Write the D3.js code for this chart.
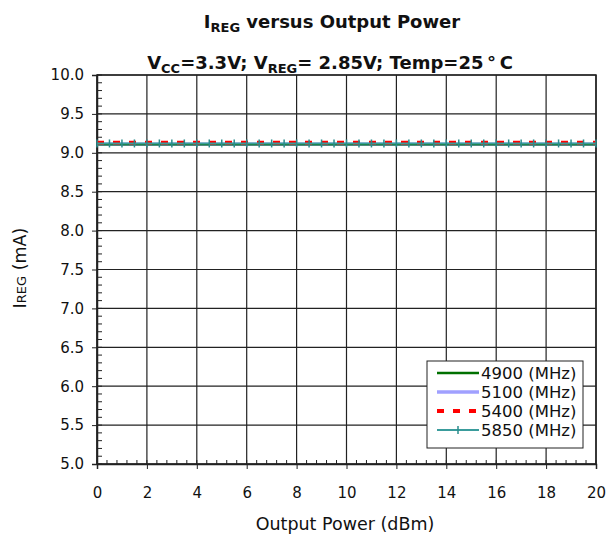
<!DOCTYPE html>
<html><head><meta charset="utf-8">
<script src="https://cdn.jsdelivr.net/npm/d3@7"></script>
<style>body{margin:0;background:#fff}text{font-family:"DejaVu Sans",sans-serif}</style>
</head><body><svg id="c" width="608" height="538"></svg>
<script>
const powerDbm = [0,0.5,1,1.5,2,2.5,3,3.5,4,4.5,5,5.5,6,6.5,7,7.5,8,8.5,9,9.5,10,10.5,11,11.5,12,12.5,13,13.5,14,14.5,15,15.5,16,16.5,17,17.5,18,18.5,19,19.5,20];
const s4900 = [9.11,9.11,9.11,9.11,9.11,9.11,9.11,9.11,9.11,9.11,9.11,9.11,9.11,9.11,9.11,9.11,9.11,9.11,9.11,9.11,9.11,9.11,9.11,9.11,9.11,9.11,9.11,9.11,9.11,9.11,9.11,9.11,9.11,9.11,9.11,9.11,9.11,9.11,9.11,9.11,9.11];
const s5100 = [9.11,9.11,9.11,9.11,9.11,9.11,9.11,9.11,9.11,9.11,9.11,9.11,9.11,9.11,9.11,9.11,9.11,9.11,9.11,9.11,9.11,9.11,9.11,9.11,9.11,9.11,9.11,9.11,9.11,9.11,9.11,9.11,9.11,9.11,9.11,9.11,9.11,9.11,9.11,9.11,9.11];
const s5400 = [9.13,9.13,9.13,9.13,9.13,9.13,9.13,9.13,9.13,9.13,9.13,9.13,9.13,9.13,9.13,9.13,9.13,9.13,9.13,9.13,9.13,9.13,9.13,9.13,9.13,9.13,9.13,9.13,9.13,9.13,9.13,9.13,9.13,9.13,9.13,9.13,9.13,9.13,9.13,9.13,9.13];
const s5850 = [9.12,9.12,9.12,9.12,9.12,9.12,9.12,9.12,9.12,9.12,9.12,9.12,9.12,9.12,9.12,9.12,9.12,9.12,9.12,9.12,9.12,9.12,9.12,9.12,9.12,9.12,9.12,9.12,9.12,9.12,9.12,9.12,9.12,9.12,9.12,9.12,9.12,9.12,9.12,9.12,9.12];
const seriesNames = ["4900 (MHz)","5100 (MHz)","5400 (MHz)","5850 (MHz)"];
const xTicks = [0,2,4,6,8,10,12,14,16,18,20];
const yTicks = [5.0,5.5,6.0,6.5,7.0,7.5,8.0,8.5,9.0,9.5,10.0];

const FONT = "'DejaVu Sans',sans-serif";
const svg = d3.select("#c");
const L=97,R=596,T=75,B=464;
const x = d3.scaleLinear().domain([0,20]).range([L,R]);
const y = d3.scaleLinear().domain([5,10]).range([B,T]);

// grid
const g = svg.append("g");
g.selectAll("line.vx").data(xTicks).join("line").attr("x1",d=>x(d)).attr("x2",d=>x(d)).attr("y1",T).attr("y2",B).attr("stroke","#222").attr("stroke-width",1.2);
g.selectAll("line.hy").data(yTicks).join("line").attr("y1",d=>y(d)).attr("y2",d=>y(d)).attr("x1",L).attr("x2",R).attr("stroke","#222").attr("stroke-width",1.2);

// minor ticks
const xMinor = d3.range(0,20.001,0.4);
svg.append("g").selectAll("line").data(xMinor).join("line").attr("x1",d=>x(d)).attr("x2",d=>x(d)).attr("y1",B).attr("y2",B-4).attr("stroke","#222");
const yMinor = d3.range(5,10.001,0.1);
svg.append("g").selectAll("line").data(yMinor).join("line").attr("y1",d=>y(d)).attr("y2",d=>y(d)).attr("x1",L).attr("x2",L+5).attr("stroke","#222");

// axes
const xa = svg.append("g").attr("transform",`translate(0,${B})`).call(d3.axisBottom(x).tickValues(xTicks).tickFormat(d3.format("d")).tickSize(5).tickPadding(18));
const ya = svg.append("g").attr("transform",`translate(${L},0)`).call(d3.axisLeft(y).tickValues(yTicks).tickFormat(d3.format(".1f")).tickSize(5).tickPadding(8));
[xa,ya].forEach(a=>{a.select(".domain").attr("stroke","#222").attr("stroke-width",1.5);a.selectAll(".tick line").attr("stroke","#222");a.selectAll("text").attr("font-size",15).attr("fill","#111").style("font-family",FONT);});
svg.append("rect").attr("x",L).attr("y",T).attr("width",R-L).attr("height",B-T).attr("fill","none").attr("stroke","#222").attr("stroke-width",1.5);

// series
const line = d3.line().x((d,i)=>x(powerDbm[i])).y(d=>y(d));
const styles = [
  {data:s5100,stroke:"#a0a0ff",w:3.5,dash:null},
  {data:s4900,stroke:"#007000",w:2.5,dash:null},
  {data:s5400,stroke:"#ff0000",w:4,dash:"7,9"},
  {data:s5850,stroke:"#3a9c9c",w:2,dash:null,marker:true}
];
const order=[1,0,2,3];
styles.forEach(s=>{
  svg.append("path").datum(s.data).attr("d",line).attr("fill","none").attr("stroke",s.stroke).attr("stroke-width",s.w).attr("stroke-dasharray",s.dash);
  if(s.marker){
    svg.append("g").selectAll("line").data(s.data).join("line").attr("x1",(d,i)=>x(powerDbm[i])).attr("x2",(d,i)=>x(powerDbm[i])).attr("y1",d=>y(d)-4).attr("y2",d=>y(d)+4).attr("stroke","#2a8c8c").attr("stroke-width",1.5);
  }
});

// legend
const lg = svg.append("g");
lg.append("rect").attr("x",427).attr("y",361).attr("width",156).attr("height",87).attr("fill","#fff").attr("stroke","#222").attr("stroke-width",1);
order.forEach((si,k)=>{
  const s=styles[si], yy=373+k*19;
  lg.append("line").attr("x1",437).attr("x2",479).attr("y1",yy).attr("y2",yy).attr("stroke",s.stroke).attr("stroke-width",s.w).attr("stroke-dasharray",s.dash);
  if(s.marker) lg.append("line").attr("x1",458).attr("x2",458).attr("y1",yy-4).attr("y2",yy+4).attr("stroke","#2a8c8c").attr("stroke-width",1.5);
  lg.append("text").attr("x",481).attr("y",yy+6).attr("font-size",16.5).attr("fill","#111").text(seriesNames[k]);
});

// titles
const t1 = svg.append("text").attr("x",332).attr("y",28).attr("text-anchor","middle").attr("font-size",18).attr("font-weight","bold").attr("fill","#111");
t1.append("tspan").text("I");
t1.append("tspan").attr("font-size",13).attr("dy",4).text("REG");
t1.append("tspan").attr("dy",-4).text(" versus Output Power");
const t2 = svg.append("text").attr("x",330).attr("y",69).attr("text-anchor","middle").attr("font-size",18).attr("font-weight","bold").attr("fill","#111");
t2.append("tspan").text("V");
t2.append("tspan").attr("font-size",13).attr("dy",4).text("CC");
t2.append("tspan").attr("dy",-4).text("=3.3V; V");
t2.append("tspan").attr("font-size",13).attr("dy",4).text("REG");
t2.append("tspan").attr("dy",-4).text("= 2.85V; Temp=25\u2009°\u2009C");

svg.append("text").attr("x",345).attr("y",530).attr("text-anchor","middle").attr("font-size",17.5).attr("fill","#111").text("Output Power (dBm)");
const yl = svg.append("text").attr("transform","translate(26,268) rotate(-90)").attr("text-anchor","middle").attr("font-size",17.5).attr("fill","#111");
yl.append("tspan").text("I");
yl.append("tspan").attr("font-size",13).text("REG");
yl.append("tspan").text(" (mA)");
</script></body></html>
